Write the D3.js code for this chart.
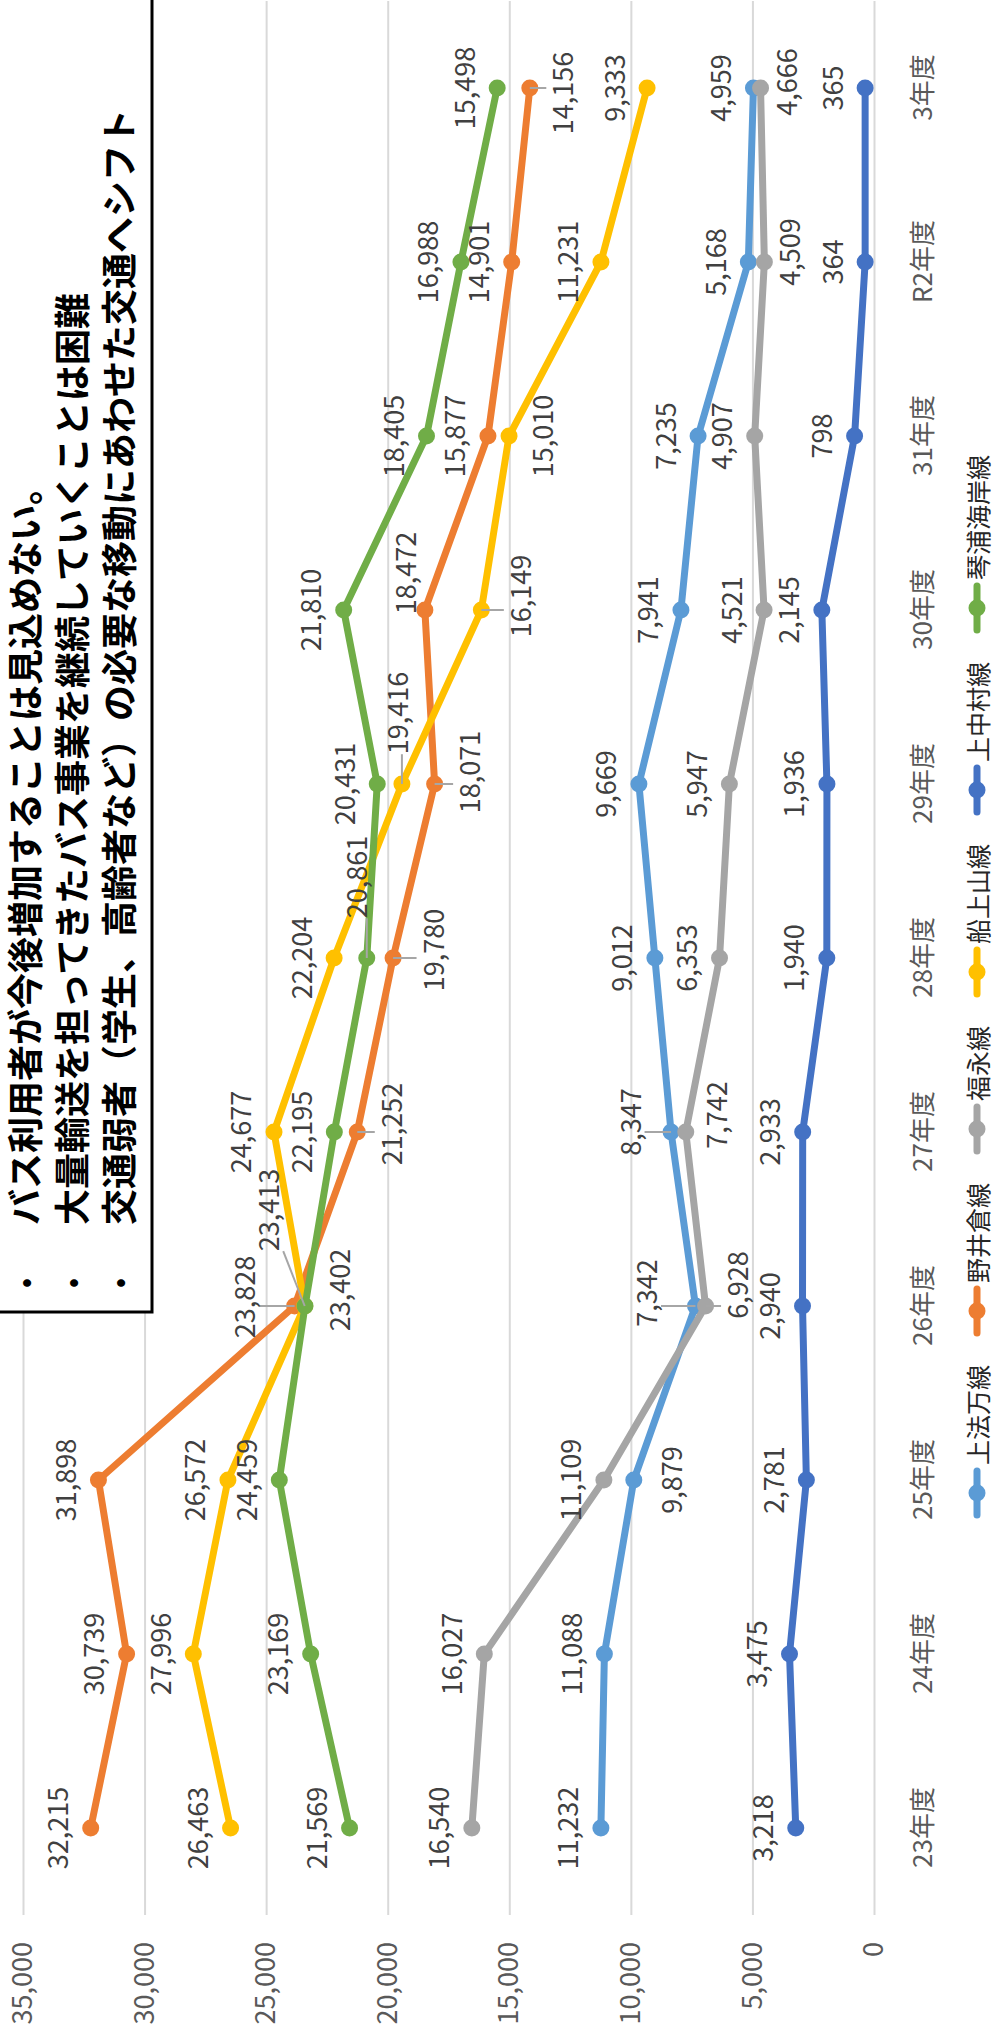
<!DOCTYPE html>
<html lang="ja">
<head>
<meta charset="utf-8">
<title>路線別バス利用者数</title>
<script src="https://cdn.jsdelivr.net/npm/d3@7"></script>
<style>
  body { margin: 0; background: #fff; }
  svg text { font-family: "Noto Sans CJK JP", "Noto Sans", sans-serif; }
</style>
</head>
<body>
<svg id="chart" width="998" height="2037"></svg>
<script>
// ---- data ----
var years = ["23年度", "24年度", "25年度", "26年度", "27年度", "28年度", "29年度", "30年度", "31年度", "R2年度", "3年度"];
var kamihoman   = [11232, 11088, 9879, 7342, 8347, 9012, 9669, 7941, 7235, 5168, 4959];
var noikura     = [32215, 30739, 31898, 23828, 21252, 19780, 18071, 18472, 15877, 14901, 14156];
var fukunaga    = [16540, 16027, 11109, 6928, 7742, 6353, 5947, 4521, 4907, 4509, 4666];
var funanoueyama = [26463, 27996, 26572, 23413, 24677, 22204, 19416, 16149, 15010, 11231, 9333];
var kaminakamura = [3218, 3475, 2781, 2940, 2933, 1940, 1936, 2145, 798, 364, 365];
var kotoura     = [21569, 23169, 24459, 23402, 22195, 20861, 20431, 21810, 18405, 16988, 15498];
var valueTicks  = [0, 5000, 10000, 15000, 20000, 25000, 30000, 35000];
var notes = [
  "バス利用者が今後増加することは見込めない。",
  "大量輸送を担ってきたバス事業を継続していくことは困難",
  "交通弱者（学生、高齢者など）の必要な移動にあわせた交通へシフト"
];

var series = [
  {name: "上法万線", values: kamihoman, color: "#5B9BD5"},
  {name: "野井倉線", values: noikura, color: "#ED7D31"},
  {name: "福永線", values: fukunaga, color: "#A5A5A5"},
  {name: "船上山線", values: funanoueyama, color: "#FFC000"},
  {name: "上中村線", values: kaminakamura, color: "#4472C4"},
  {name: "琴浦海岸線", values: kotoura, color: "#70AD47"}
];

// labels that were dragged away from the default "above" spot
// [series, year, along-category shift, along-value shift, leader line]
var labelMoves = [
  [0, 2, 0, 37, false], [0, 3, 13, -50, true], [0, 4, 10, -42, true],
  [1, 3, 9, -51, true], [1, 4, 8, 33, true], [1, 5, 8, 39, true], [1, 6, 12, 34, true],
  [1, 7, 37, -20, false], [1, 10, -5, 32, true],
  [2, 3, 21, 31, true], [2, 4, 17, 30, false], [2, 9, 10, 24, false], [2, 10, 6, 25, false],
  [3, 3, 96, -37, true], [3, 6, 71, -5, true], [3, 7, 14, 38, true], [3, 8, 0, 32, false],
  [5, 3, 16, 34, false], [5, 5, 81, -11, true]
];

// ---- chart is laid out landscape and turned a quarter turn ----
var W = 2037, H = 998;
var svg = d3.select("#chart");
var g = svg.append("g").attr("transform", "translate(0," + W + ") rotate(-90)");

var plotLeft = 122, plotRight = 2036;
var x = d3.scalePoint().domain(years).range([209, 1949]);
var y = d3.scaleLinear().domain([0, 35000]).range([874, 23]);

// value axis + gridlines
var yAxis = d3.axisLeft(y).tickValues(valueTicks).tickFormat(d3.format(","))
  .tickSize(-(plotRight - plotLeft)).tickPadding(27);
var ya = g.append("g").attr("transform", "translate(" + plotLeft + ",0)").call(yAxis);
ya.select(".domain").remove();
ya.selectAll(".tick line").attr("stroke", "#d9d9d9").attr("stroke-width", 2);
ya.selectAll(".tick text").attr("fill", "#595959").style("font-size", "27px")
  .style("font-family", "'Noto Sans CJK JP', sans-serif");

// category axis
var xAxis = d3.axisBottom(x).tickSize(0).tickPadding(40);
var xa = g.append("g").attr("transform", "translate(0," + y(0) + ")").call(xAxis);
xa.select(".domain").remove();
xa.selectAll(".tick text").attr("fill", "#595959").style("font-size", "26px")
  .style("font-family", "'Noto Sans CJK JP', sans-serif");

// lines and markers
var line = d3.line().x(function(d, i) { return x(years[i]); }).y(function(d) { return y(d); });
var sg = g.selectAll("g.series").data(series).join("g").attr("class", "series");
sg.append("path").attr("d", function(s) { return line(s.values); })
  .attr("fill", "none").attr("stroke", function(s) { return s.color; })
  .attr("stroke-width", 7).attr("stroke-linejoin", "round").attr("stroke-linecap", "round");
sg.selectAll("circle").data(function(s) { return s.values.map(function(v) { return {v: v, c: s.color}; }); })
  .join("circle")
  .attr("cx", function(d, i) { return x(years[i]); })
  .attr("cy", function(d) { return y(d.v); })
  .attr("r", 8.5).attr("fill", function(d) { return d.c; });

// data labels
var fmt = d3.format(",");
var labels = [];
series.forEach(function(s, si) {
  s.values.forEach(function(v, i) {
    var m = labelMoves.find(function(r) { return r[0] === si && r[1] === i; });
    labels.push({
      v: v, px: x(years[i]), py: y(v),
      dx: m ? m[2] : 0, dy: m ? m[3] : -34, leader: m ? m[4] : false
    });
  });
});
var leaderG = g.append("g");
var lt = g.append("g").selectAll("text").data(labels).join("text")
  .attr("x", function(d) { return d.px + d.dx; })
  .attr("y", function(d) { return d.py + d.dy; })
  .attr("text-anchor", "middle").attr("dominant-baseline", "central")
  .attr("fill", "#404040").style("font-size", "27px")
  .text(function(d) { return fmt(d.v); });
lt.each(function(d) {
  if (!d.leader) return;
  var b = this.getBBox();
  var ex = Math.max(b.x, Math.min(d.px, b.x + b.width));
  var ey = Math.max(b.y + 4, Math.min(d.py, b.y + b.height - 4));
  leaderG.append("line").attr("x1", ex).attr("y1", ey).attr("x2", d.px).attr("y2", d.py)
    .attr("stroke", "#a6a6a6").attr("stroke-width", 2);
});

// legend
var legend = g.append("g");
var lgY = 977, pos = 0;
series.forEach(function(s) {
  var it = legend.append("g").attr("transform", "translate(" + pos + "," + lgY + ")");
  it.append("line").attr("x1", 0).attr("x2", 44).attr("stroke", s.color).attr("stroke-width", 7)
    .attr("stroke-linecap", "round");
  it.append("circle").attr("cx", 22).attr("r", 8.5).attr("fill", s.color);
  var t = it.append("text").attr("x", 50).attr("dominant-baseline", "central")
    .attr("fill", "#262626").style("font-size", "25px").text(s.name);
  pos += 50 + t.node().getComputedTextLength() + 32;
});
var lgWidth = pos - 32;
legend.attr("transform", "translate(" + (1052 - lgWidth / 2) + ",0)");

// note box
var box = g.append("g");
box.append("rect").attr("x", 725).attr("y", -10).attr("width", 1400).attr("height", 162)
  .attr("fill", "#fff").attr("stroke", "#000").attr("stroke-width", 3);
notes.forEach(function(n, i) {
  var cy = 23 + i * 47;
  box.append("text").attr("x", 754).attr("y", cy).attr("text-anchor", "middle")
    .attr("dominant-baseline", "central").style("font-size", "30px").text("•");
  box.append("text").attr("x", 812).attr("y", cy).attr("dominant-baseline", "central")
    .style("font-size", "36px").style("font-weight", "bold").attr("fill", "#000").text(n);
});
</script>
</body>
</html>
